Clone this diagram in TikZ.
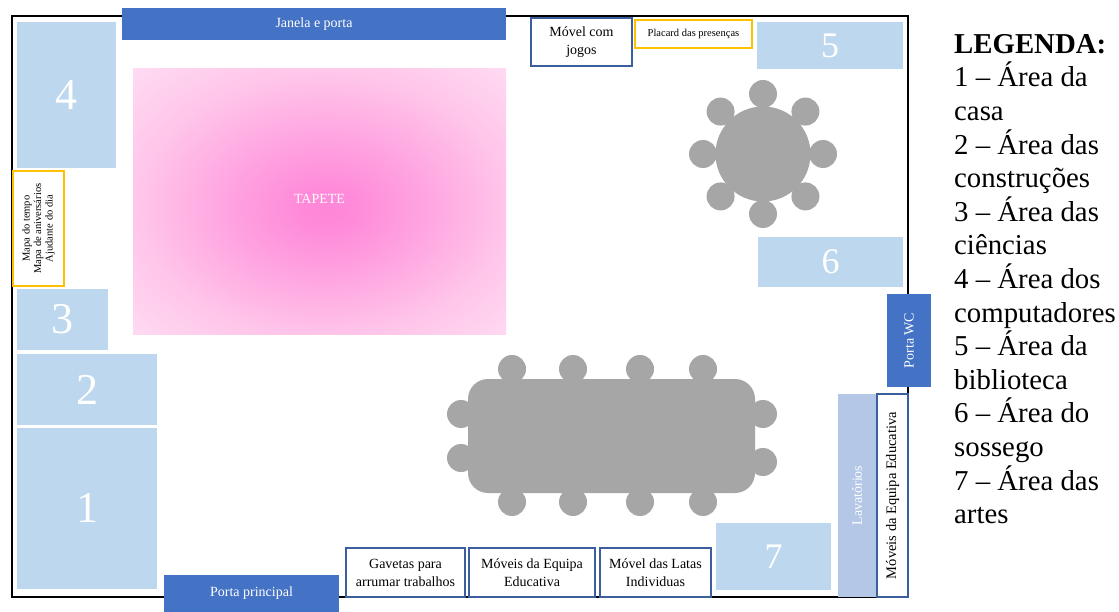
\documentclass[tikz,border=0pt]{standalone}
\usepackage{fontspec}
\setmainfont{Liberation Serif}
\usetikzlibrary{calc}
\definecolor{areablue}{HTML}{BDD7EE}
\definecolor{doorblue}{HTML}{4472C4}
\definecolor{lavblue}{HTML}{B4C7E7}
\definecolor{frameblue}{HTML}{3A5E9E}
\definecolor{tablegray}{HTML}{A6A6A6}
\definecolor{notice}{HTML}{FFC000}
\definecolor{rugin}{HTML}{FF86D8}
\definecolor{rugin2}{HTML}{FF8BDA}
\definecolor{rughalf}{HTML}{FFA2E0}
\definecolor{rugmid}{HTML}{FFC6EA}
\definecolor{rugout}{HTML}{FFDAF2}
\pgfdeclareradialshading{rug}{\pgfpoint{1bp}{-1.5bp}}{color(0bp)=(rugin); color(4bp)=(rugin2); color(12.5bp)=(rughalf); color(25bp)=(rugmid); color(35.5bp)=(rugout); color(50bp)=(rugout)}
\tikzset{
  areabox/.style={fill=areablue, text=white, inner sep=0pt, font=\fontsize{44}{44}\selectfont},
  smallarea/.style={areabox, font=\fontsize{36}{36}\selectfont},
  doorbox/.style={fill=doorblue, text=white, inner sep=0pt, font=\fontsize{14}{16}\selectfont},
  furnbox/.style={draw=frameblue, line width=1.1pt, fill=white, inner sep=0pt, align=center, font=\fontsize{14}{18}\selectfont},
  noticebox/.style={draw=notice, line width=1.1pt, fill=white, inner sep=0pt, align=center},
  chair/.style={fill=tablegray},
  wall/.style={draw=black, line width=2.8pt}
}
\begin{document}
\begin{tikzpicture}[x=1pt, y=-1pt]
\useasboundingbox (0,0) rectangle (1119,612);
\fill[white] (0,0) rectangle (1119,612);
% walls
\draw[wall] (12,16) rectangle (908,597);
% top
\node[doorbox, minimum width=384pt, minimum height=32pt] (janela) at (314,24) {\raisebox{3pt}{Janela e porta}};
\node[furnbox, minimum width=101pt, minimum height=48pt] (jogos) at (581.5,42) {Móvel com\\jogos};
\node[noticebox, minimum width=117pt, minimum height=28pt, font=\fontsize{10.5}{12}\selectfont] (placard) at (693.5,34) {Placard das presenças};
\node[smallarea, minimum width=146pt, minimum height=47pt] (a5) at (830,45.5) {5};
% left
\node[areabox, minimum width=99pt, minimum height=146pt] (a4) at (66.5,95) {4};
\node[noticebox, rotate=90, minimum width=115pt, minimum height=51pt, font=\fontsize{10.5}{11.5}\selectfont] (mapa) at (38.5,228.5) {Mapa do tempo\\Mapa de aniversários\\Ajudante do dia};
\node[areabox, minimum width=91pt, minimum height=61pt] (a3) at (62.5,319.5) {3};
\node[areabox, minimum width=140pt, minimum height=71pt] (a2) at (87,389.5) {2};
\node[areabox, minimum width=140pt, minimum height=161pt] (a1) at (87,508) {1};
% rug
\node[shading=rug, minimum width=373pt, minimum height=265pt, inner sep=0pt, text=white, font=\fontsize{14}{16}\selectfont] (tapete) at (319.5,201.5) {\raisebox{6pt}{TAPETE}};
% right
\node[smallarea, minimum width=145pt, minimum height=50pt] (a6) at (830.5,262) {6};
\node[doorbox, rotate=90, minimum width=93pt, minimum height=44pt] (wc) at (909,340.5) {Porta WC};
\node[fill=lavblue, text=white, inner sep=0pt, rotate=90, minimum width=203pt, minimum height=38pt, font=\fontsize{14}{16}\selectfont] (lav) at (857,495.5) {Lavatórios};
\node[furnbox, rotate=90, minimum width=203pt, minimum height=31pt, font=\fontsize{14.5}{16}\selectfont] (equipav) at (892.5,495.5) {Móveis da Equipa Educativa};
% bottom
\node[smallarea, minimum width=115pt, minimum height=67pt] (a7) at (773.5,556.5) {7};
\node[furnbox, minimum width=111pt, minimum height=49pt] (latas) at (655.5,572.5) {Móvel das Latas\\Individuas};
\node[furnbox, minimum width=126pt, minimum height=49pt] (equipa) at (532,572.5) {Móveis da Equipa\\Educativa};
\node[furnbox, minimum width=119pt, minimum height=49pt] (gavetas) at (405.5,572.5) {Gavetas para\\arrumar trabalhos};
\node[doorbox, minimum width=175pt, minimum height=37pt] (principal) at (251.5,593.5) {\raisebox{3pt}{Porta principal}};
% round table
\foreach \a in {0,45,...,315} {
  \fill[chair] ($(763,154)+(\a:60)$) circle (14);
}
\node[circle, fill=tablegray, minimum size=95pt, inner sep=0pt] (roundtable) at (763,154) {};
% long table
\foreach \cx in {512,573,640,703} {
  \fill[chair] (\cx,369) circle (14);
  \fill[chair] (\cx,502) circle (14);
}
\fill[chair] (461,414) circle (14);
\fill[chair] (461,458) circle (14);
\fill[chair] (763,414) circle (14);
\fill[chair] (763,462) circle (14);
\node[rectangle, rounded corners=20pt, fill=tablegray, minimum width=287pt, minimum height=114pt, inner sep=0pt] (longtable) at (611.5,436) {};
% legend
\node[anchor=north west, inner sep=0pt, align=left, font=\fontsize{28.8}{33.6}\selectfont] (legend) at (954,34) {\textbf{LEGENDA:}\\1 – Área da\\casa\\2 – Área das\\construções\\3 – Área das\\ciências\\4 – Área dos\\computadores\\5 – Área da\\biblioteca\\6 – Área do\\sossego\\7 – Área das\\artes};
\end{tikzpicture}
\end{document}
